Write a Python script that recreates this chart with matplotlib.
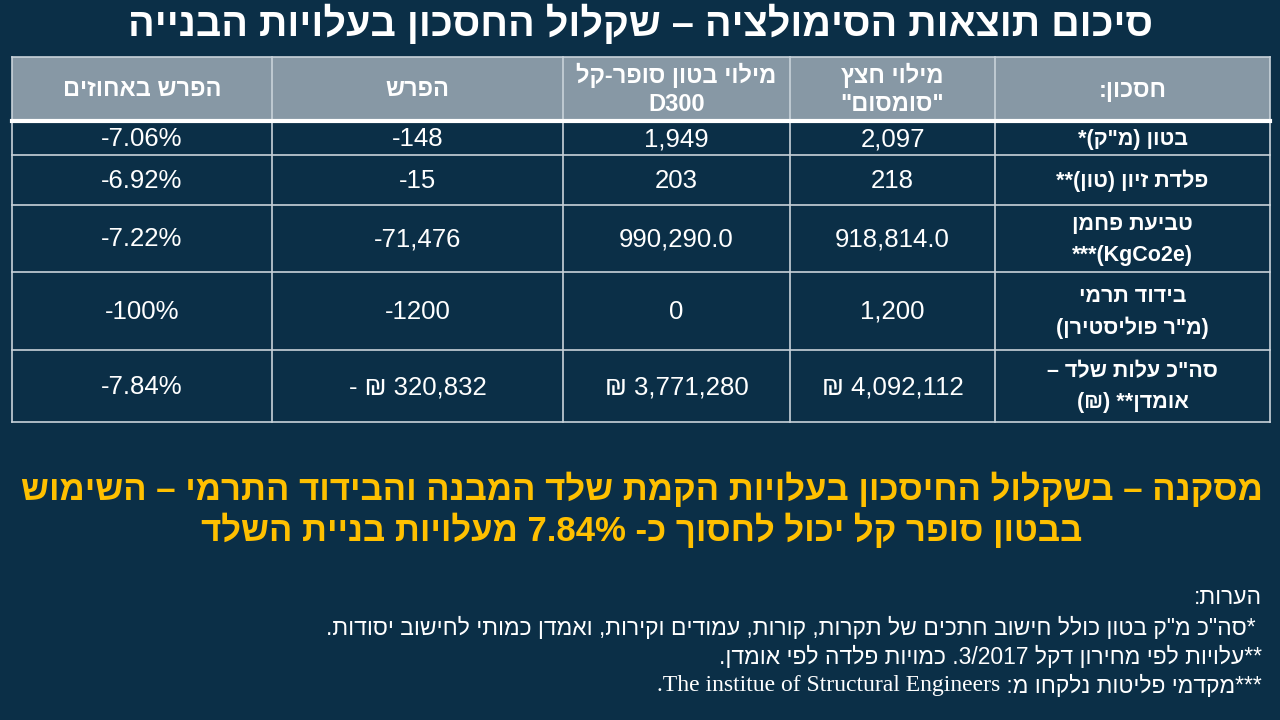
import re
import matplotlib
matplotlib.use("Agg")
import matplotlib.pyplot as plt
from matplotlib import font_manager
from matplotlib.patches import Rectangle

# ── Data ──────────────────────────────────────────────────────────────────────

title = "סיכום תוצאות הסימולציה – שקלול החסכון בעלויות הבנייה"

# columns, right to left as on the slide
col_headers = [
    ["חסכון:"],
    ["מילוי חצץ", '"סומסום"'],
    ["מילוי בטון סופר-קל", "D300"],
    ["הפרש"],
    ["הפרש באחוזים"],
]
row_labels = [
    ['בטון (מ"ק)*'],
    ["פלדת זיון (טון)**"],
    ["טביעת פחמן", "(KgCo2e)***"],
    ["בידוד תרמי", '(מ"ר פוליסטירן)'],
    ['סה"כ עלות שלד –', "אומדן** (₪)"],
]
somsom = ["2,097", "218", "918,814.0", "1,200", "₪ 4,092,112"]
d300 = ["1,949", "203", "990,290.0", "0", "₪ 3,771,280"]
diff = ["-148", "-15", "-71,476", "-1200", "- ₪ 320,832"]
diff_pct = ["-7.06%", "-6.92%", "-7.22%", "-100%", "-7.84%"]

conclusion = [
    "מסקנה – בשקלול החיסכון בעלויות הקמת שלד המבנה והבידוד התרמי – השימוש",
    "בבטון סופר קל יכול לחסוך כ- 7.84% מעלויות בניית השלד",
]
notes = [
    "הערות:",
    ' *סה"כ מ"ק בטון כולל חישוב חתכים של תקרות, קורות, עמודים וקירות, ואמדן כמותי לחישוב יסודות.',
    "**עלויות לפי מחירון דקל 3/2017. כמויות פלדה לפי אומדן.",
]
note_last_heb = "***מקדמי פליטות נלקחו מ: "
note_last_eng = "The institue of Structural Engineers."

# ── Helpers ───────────────────────────────────────────────────────────────────

MIRROR = {"(": ")", ")": "("}
LTR_RUN = re.compile(r"[A-Za-z0-9](?:[A-Za-z0-9 .,/%:\-]*[A-Za-z0-9%])?")


def visual(s):
    """Very small bidi: RTL paragraph, keep latin/number runs in order."""
    parts, pos = [], 0
    for m in LTR_RUN.finditer(s):
        parts.extend(MIRROR.get(c, c) for c in s[pos:m.start()])
        parts.append(m.group())
        pos = m.end()
    parts.extend(MIRROR.get(c, c) for c in s[pos:])
    return "".join(reversed(parts))


names = {f.name for f in font_manager.fontManager.ttflist}
NARROW = "Liberation Sans Narrow" if "Liberation Sans Narrow" in names else "Liberation Sans"
SANS = ["Liberation Sans", "DejaVu Sans"]
NUM = [NARROW, "Liberation Sans", "DejaVu Sans"]

BG = "#0b2f47"
HEAD = "#8798a5"
GRID = "#c8d2d9"
YELLOW = "#ffc000"

# ── Figure ────────────────────────────────────────────────────────────────────

fig = plt.figure(figsize=(12.8, 7.2), dpi=100)
fig.patch.set_facecolor(BG)
ax = fig.add_axes([0, 0, 1, 1])
ax.set_xlim(0, 1280)
ax.set_ylim(720, 0)
ax.axis("off")

ax.text(640, 24, visual(title), color="white", fontsize=28.5, fontweight="bold",
        family=SANS, ha="center", va="center")

# table layout (right to left)
x_edges = [1270, 995, 790, 563, 272, 12]
y_edges = [57, 121, 155, 205, 272, 350, 422]

ax.add_patch(Rectangle((x_edges[-1], y_edges[0]), x_edges[0] - x_edges[-1],
                       y_edges[1] - y_edges[0], facecolor=HEAD, edgecolor="none"))
for x in x_edges:
    ax.plot([x, x], [y_edges[0], y_edges[-1]], color=GRID, lw=1.2)
for i, y in enumerate(y_edges):
    ax.plot([x_edges[-1], x_edges[0]], [y, y], color="white" if i == 1 else GRID,
            lw=3 if i == 1 else 1.2)

col_cx = [(x_edges[i] + x_edges[i + 1]) / 2 for i in range(5)]
row_cy = [(y_edges[i] + y_edges[i + 1]) / 2 for i in range(1, 6)]


def cell_lines(lines, cx, cy, gap, **kw):
    n = len(lines)
    for k, line in enumerate(lines):
        y = cy + (k - (n - 1) / 2) * gap
        ax.text(cx, y, visual(line), ha="center", va="center", **kw)


head_cy = (y_edges[0] + y_edges[1]) / 2 + 1
for cx, lines in zip(col_cx, col_headers):
    cell_lines(lines, cx, head_cy, 29, color="white", fontsize=17,
               fontweight="bold", family=SANS)

for cy, lines in zip(row_cy, row_labels):
    cell_lines(lines, col_cx[0], cy + 1, 31, color="white", fontsize=15.5,
               fontweight="bold", family=SANS)

for j, col in enumerate([somsom, d300, diff, diff_pct]):
    for cy, val in zip(row_cy, col):
        ax.text(col_cx[j + 1], cy + 1, val, ha="center", va="center", color="white",
                fontsize=18.5, family=NUM)

# conclusion
for k, line in enumerate(conclusion):
    ax.text(642, 489 + k * 41, visual(line), ha="center", va="center",
            color=YELLOW, fontsize=25, fontweight="bold", family=SANS)

# notes
note_y = [598, 628, 657, 686]
for y, line in zip(note_y, notes):
    ax.text(1262, y, visual(line), ha="right", va="center", color="white",
            fontsize=16.5, family=SANS)

t = ax.text(1262, note_y[3], visual(note_last_heb), ha="right", va="center",
            color="white", fontsize=16.5, family=SANS)
renderer = fig.canvas.get_renderer()
left_px = t.get_window_extent(renderer).x0
left_x = ax.transData.inverted().transform((left_px, 0))[0]
ax.text(left_x, note_y[3], visual(note_last_eng), ha="right", va="center",
        color="white", fontsize=17, family=["Liberation Serif", "DejaVu Serif"])

fig.savefig("out.png", dpi=100, facecolor=BG)
plt.close(fig)
